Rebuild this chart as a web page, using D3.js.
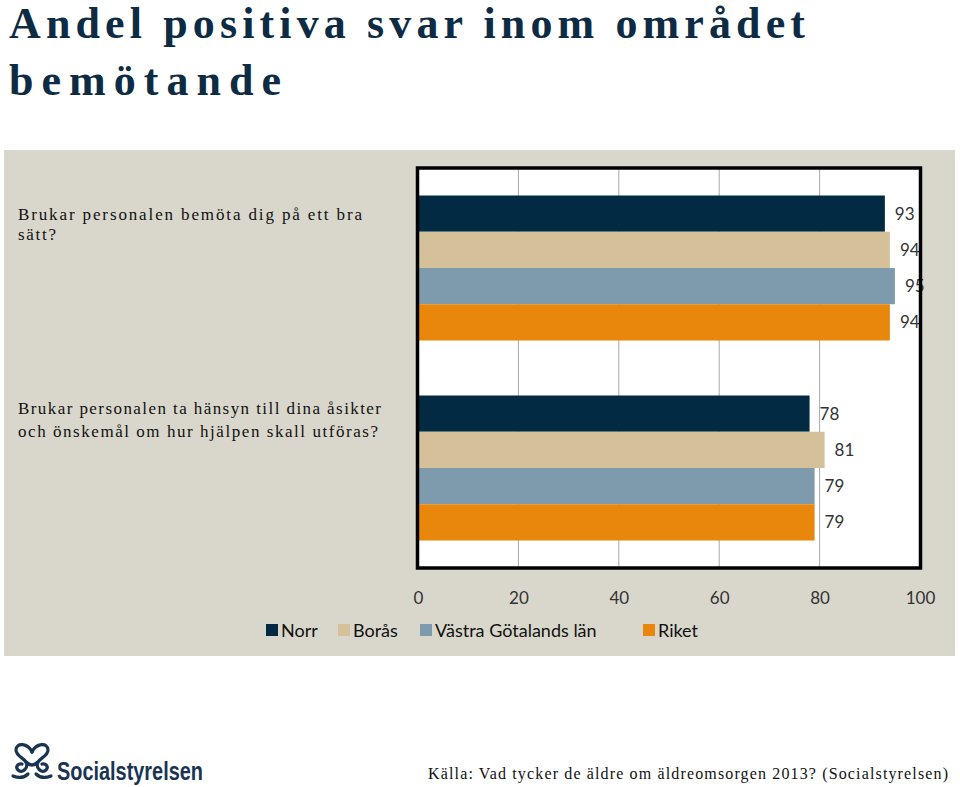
<!DOCTYPE html>
<html><head><meta charset="utf-8">
<script src="https://cdn.jsdelivr.net/npm/d3@7"></script>
<style>body{margin:0;background:#fff}svg{display:block}</style>
</head><body>
<svg id="c" width="960" height="787"></svg>
<script>
const categories = ["Brukar personalen bemöta dig på ett bra sätt?",
  "Brukar personalen ta hänsyn till dina åsikter och önskemål om hur hjälpen skall utföras?"];
const categoryLines = [["Brukar personalen bemöta dig på ett bra", "sätt?"],
  ["Brukar personalen ta hänsyn till dina åsikter", "och önskemål om hur hjälpen skall utföras?"]];
const seriesNames = ["Norr", "Borås", "Västra Götalands län", "Riket"];
const norr = [93, 78];
const boras = [94, 81];
const vgl = [95, 79];
const riket = [94, 79];
const tickValues = [0, 20, 40, 60, 80, 100];
const seriesValues = [norr, boras, vgl, riket];
const colors = ["#032a43", "#d4c199", "#7e9bae", "#e8870b"];

const svg = d3.select("#c");
const serif = "'Liberation Serif', 'DejaVu Serif', serif";
const sans = "'Lato', 'Noto Sans', sans-serif";

// Title
svg.append("text").attr("x", 9).attr("y", 38).attr("font-family", serif).attr("font-weight", "bold")
  .attr("font-size", 44).attr("fill", "#0d2c44").attr("textLength", 796).attr("lengthAdjust", "spacing")
  .text("Andel positiva svar inom området");
svg.append("text").attr("x", 9).attr("y", 95).attr("font-family", serif).attr("font-weight", "bold")
  .attr("font-size", 44).attr("fill", "#0d2c44").attr("textLength", 272).attr("lengthAdjust", "spacing")
  .text("bemötande");

// Panel
svg.append("rect").attr("x", 4).attr("y", 150).attr("width", 951).attr("height", 506).attr("fill", "#d9d7cb");

const pL = 418, pR = 920, pT = 168, pB = 568;
const x = d3.scaleLinear().domain([0, 100]).range([pL, pR]);
const y0 = d3.scaleBand().domain(categories).range([pT, pB]).paddingInner(0.275).paddingOuter(0.1375);
const y1 = d3.scaleBand().domain(seriesNames).range([0, y0.bandwidth()]);

svg.append("rect").attr("x", pL).attr("y", pT).attr("width", pR - pL).attr("height", pB - pT).attr("fill", "#fff");

// gridlines
svg.append("g").selectAll("line").data(tickValues.slice(1, -1)).join("line")
  .attr("x1", d => x(d)).attr("x2", d => x(d)).attr("y1", pT).attr("y2", pB)
  .attr("stroke", "#a8a8a8").attr("stroke-width", 1);

// bars
const rows = [];
categories.forEach((c, i) => seriesNames.forEach((s, j) => rows.push({c, s, j, v: seriesValues[j][i]})));
svg.append("g").selectAll("rect").data(rows).join("rect")
  .attr("x", x(0)).attr("y", d => y0(d.c) + y1(d.s))
  .attr("width", d => x(d.v) - x(0)).attr("height", y1.bandwidth())
  .attr("fill", d => colors[d.j]);

// value labels
svg.append("g").selectAll("text").data(rows).join("text")
  .attr("x", d => x(d.v) + 10).attr("y", d => y0(d.c) + y1(d.s) + y1.bandwidth() / 2 + 6)
  .attr("font-family", sans).attr("font-size", 17).attr("fill", "#333").text(d => d.v);

// border
svg.append("rect").attr("x", pL - 0.5).attr("y", pT).attr("width", pR - pL + 1).attr("height", pB - pT)
  .attr("fill", "none").attr("stroke", "#000").attr("stroke-width", 3.5);

// x axis
const xAxis = d3.axisBottom(x).tickValues(tickValues).tickSize(0).tickPadding(0);
const ax = svg.append("g").attr("transform", `translate(0,${pB + 36})`).call(xAxis);
ax.select(".domain").remove();
ax.selectAll("text").attr("font-family", sans).attr("font-size", 17).attr("fill", "#333").attr("dy", 0);

// category labels
categoryLines.forEach((lines, i) => {
  const base = i === 0 ? 220 : 414;
  const widths = i === 0 ? [344, 38] : [363, 360];
  lines.forEach((t, k) => {
    svg.append("text").attr("x", 18).attr("y", base + k * (i === 0 ? 20 : 23)).attr("font-family", serif)
      .attr("font-size", 17).attr("fill", "#111").attr("textLength", widths[k]).attr("lengthAdjust", "spacing").text(t);
  });
});

// legend
const legendX = [266, 338, 420, 643];
const lg = svg.append("g");
seriesNames.forEach((s, j) => {
  lg.append("rect").attr("x", legendX[j]).attr("y", 624).attr("width", 12).attr("height", 12).attr("fill", colors[j]);
  lg.append("text").attr("x", legendX[j] + 15).attr("y", 637).attr("font-family", sans).attr("font-size", 18)
    .attr("fill", "#111").text(s);
});

// logo
const logo = svg.append("g").attr("transform", "translate(12,742)").attr("fill", "none").attr("stroke", "#1a3553").attr("stroke-width", 3.2).attr("stroke-linecap", "round");
logo.append("path").attr("d", "M20,10 C16,1 4,0 4,8 C4,14 12,16 14,20 C17,26 10,32 6,28 C3,25 6,21 10,22");
logo.append("path").attr("d", "M20,10 C24,1 36,0 36,8 C36,14 28,16 26,20 C23,26 30,32 34,28 C37,25 34,21 30,22");
logo.append("path").attr("d", "M14,20 C18,24 22,24 26,20");
logo.append("path").attr("d", "M1,34 C6,36 12,36 16,32 M24,32 C28,36 34,36 39,34");
svg.append("text").attr("x", 57).attr("y", 780).attr("font-family", "'Liberation Sans Narrow','Liberation Sans',sans-serif")
  .attr("font-weight", "bold").attr("font-size", 25).attr("fill", "#1a3553").attr("textLength", 146).attr("lengthAdjust", "spacingAndGlyphs").text("Socialstyrelsen");

// source
svg.append("text").attr("x", 428).attr("y", 779).attr("font-family", serif).attr("font-size", 16).attr("fill", "#111")
  .attr("textLength", 520).attr("lengthAdjust", "spacing")
  .text("Källa: Vad tycker de äldre om äldreomsorgen 2013? (Socialstyrelsen)");
</script>
</body></html>
